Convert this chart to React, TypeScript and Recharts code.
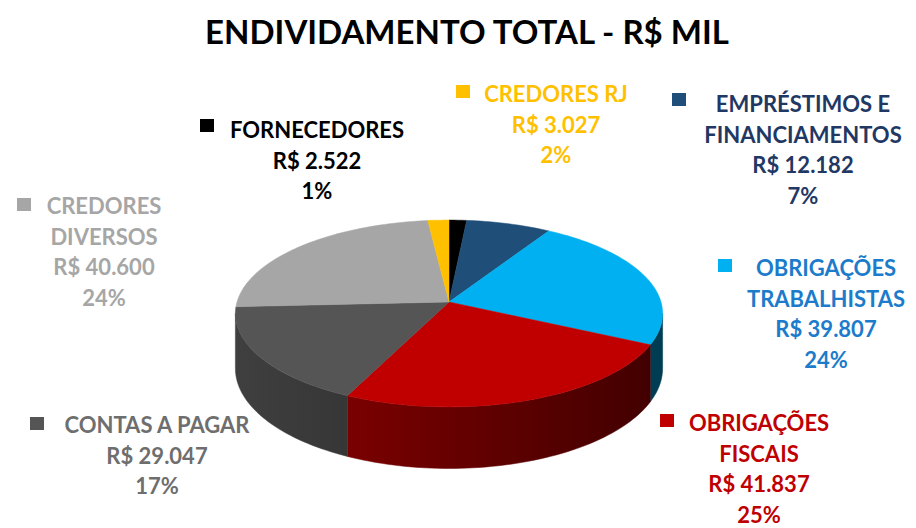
import { PieChart, Pie, Cell } from 'recharts';

const CATEGORIES = [
  'FORNECEDORES',
  'EMPRÉSTIMOS E FINANCIAMENTOS',
  'OBRIGAÇÕES TRABALHISTAS',
  'OBRIGAÇÕES FISCAIS',
  'CONTAS A PAGAR',
  'CREDORES DIVERSOS',
  'CREDORES RJ',
];
const LABEL_LINES = [
  ['FORNECEDORES'],
  ['EMPRÉSTIMOS E', 'FINANCIAMENTOS'],
  ['OBRIGAÇÕES', 'TRABALHISTAS'],
  ['OBRIGAÇÕES', 'FISCAIS'],
  ['CONTAS A PAGAR'],
  ['CREDORES', 'DIVERSOS'],
  ['CREDORES RJ'],
];
const VALUES = [2522, 12182, 39807, 41837, 29047, 40600, 3027];
const COLORS = ['#000000', '#1F4E79', '#00B0F0', '#C00000', '#555555', '#A6A6A6', '#FFC000'];
const TEXT_COLORS = ['#000000', '#1F3864', '#1C7CCB', '#C00000', '#6E6E6E', '#A6A6A6', '#FFC000'];

const TITLE = 'ENDIVIDAMENTO TOTAL - R$ MIL';

// label block placement (centre x, first baseline, legend square)
const LABEL_POS = [
  { x: 317, y: 138, sx: 200, sy: 119 },
  { x: 803, y: 112, sx: 672, sy: 93 },
  { x: 826, y: 276, sx: 718, sy: 259 },
  { x: 759, y: 431, sx: 660, sy: 414 },
  { x: 157, y: 433, sx: 30, sy: 417 },
  { x: 104, y: 214, sx: 17, sy: 198 },
  { x: 556, y: 102, sx: 456, sy: 85 },
];
const LINE_H = 30.5;
const FONT = 'Lato, "Open Sans", sans-serif';

const total = VALUES.reduce((s, v) => s + v, 0);
const data = CATEGORIES.map((name, i) => ({ name, value: VALUES[i] }));

const fmt = (v: number) => String(v).replace(/\B(?=(\d{3})+(?!\d))/g, '.');

// fake 3D: tilted disk with a bit of perspective
const TILT = 92 / 212;
const PERSP = 0.123;
const DEPTH = 54;
const VIS = (Math.asin(PERSP) * 180) / Math.PI;

function project(cx: number, cy: number, r: number, deg: number, drop = 0) {
  const a = (deg * Math.PI) / 180;
  const p = 1 / (1 + PERSP * Math.sin(a));
  return [cx + r * Math.cos(a) * p, cy - r * TILT * Math.sin(a) * p + drop * p];
}

function arcPts(cx: number, cy: number, r: number, a0: number, a1: number, drop = 0) {
  const n = Math.max(2, Math.ceil(Math.abs(a1 - a0) / 1.5));
  const pts: string[] = [];
  for (let k = 0; k <= n; k++) {
    const [x, y] = project(cx, cy, r, a0 + ((a1 - a0) * k) / n, drop);
    pts.push(`${x.toFixed(2)},${y.toFixed(2)}`);
  }
  return pts;
}

function shade(hex: string, f: number) {
  const n = parseInt(hex.slice(1), 16);
  const c = [(n >> 16) & 255, (n >> 8) & 255, n & 255].map(v => Math.round(v * f));
  return `rgb(${c.join(',')})`;
}

function Slice3D(props: any) {
  const { cx, cy, outerRadius, startAngle, endAngle, fill } = props;
  const lo = Math.min(startAngle, endAngle);
  const hi = Math.max(startAngle, endAngle);
  const top = `M${cx},${cy} L${arcPts(cx, cy, outerRadius, startAngle, endAngle).join(' L')} Z`;

  const wLo = Math.max(lo, -180 + VIS);
  const wHi = Math.min(hi, -VIS);
  const id = `wall-${String(fill).replace('#', '')}`;
  let wall = null;
  if (wLo < wHi) {
    const upper = arcPts(cx, cy, outerRadius, wLo, wHi);
    const lower = arcPts(cx, cy, outerRadius, wHi, wLo, DEPTH);
    wall = (
      <>
        <defs>
          <linearGradient id={id} gradientUnits="userSpaceOnUse" x1={cx - outerRadius} y1={0} x2={cx + outerRadius} y2={0}>
            <stop offset="0%" stopColor={shade(fill, 0.74)} />
            <stop offset="100%" stopColor={shade(fill, 0.34)} />
          </linearGradient>
        </defs>
        <path d={`M${upper.join(' L')} L${lower.join(' L')} Z`} fill={`url(#${id})`} stroke={`url(#${id})`} strokeWidth={0.5} />
      </>
    );
  }
  return (
    <g>
      {wall}
      <path d={top} fill={fill} stroke={fill} strokeWidth={0.5} />
    </g>
  );
}

function renderLabel(props: any) {
  const name = props.name ?? props.payload?.name;
  const i = CATEGORIES.indexOf(name);
  if (i < 0) return null;
  const pos = LABEL_POS[i];
  const lines = [...LABEL_LINES[i], `R$ ${fmt(VALUES[i])}`, `${Math.round((VALUES[i] / total) * 100)}%`];
  return (
    <g>
      <rect x={pos.sx} y={pos.sy} width={14} height={13} fill={COLORS[i]} />
      <text textAnchor="middle" fill={TEXT_COLORS[i]} fontSize={22} fontWeight={700} fontFamily={FONT}>
        {lines.map((l, k) => (
          <tspan key={k} x={pos.x} y={pos.y + k * LINE_H}>{l}</tspan>
        ))}
      </text>
    </g>
  );
}

export default function App() {
  return (
    <div style={{ position: 'absolute', left: 0, top: 0, width: 916, height: 528, background: '#fff', fontFamily: FONT }}>
      <svg width={916} height={60} style={{ position: 'absolute', left: 0, top: 0 }}>
        <text x={467} y={44} textAnchor="middle" fontSize={33} fontWeight={700} fontFamily={FONT} fill="#000">
          {TITLE}
        </text>
      </svg>
      <div style={{ position: 'absolute', left: 0, top: 0 }}>
        <PieChart width={916} height={528} margin={{ top: 0, right: 0, bottom: 0, left: 0 }}>
          <Pie
            data={data}
            dataKey="value"
            nameKey="name"
            cx={449}
            cy={302}
            outerRadius={212}
            startAngle={90}
            endAngle={-270}
            stroke="none"
            shape={Slice3D}
            label={renderLabel}
            labelLine={false}
            isAnimationActive={false}
          >
            {data.map((d, i) => (
              <Cell key={d.name} fill={COLORS[i]} />
            ))}
          </Pie>
        </PieChart>
      </div>
    </div>
  );
}
